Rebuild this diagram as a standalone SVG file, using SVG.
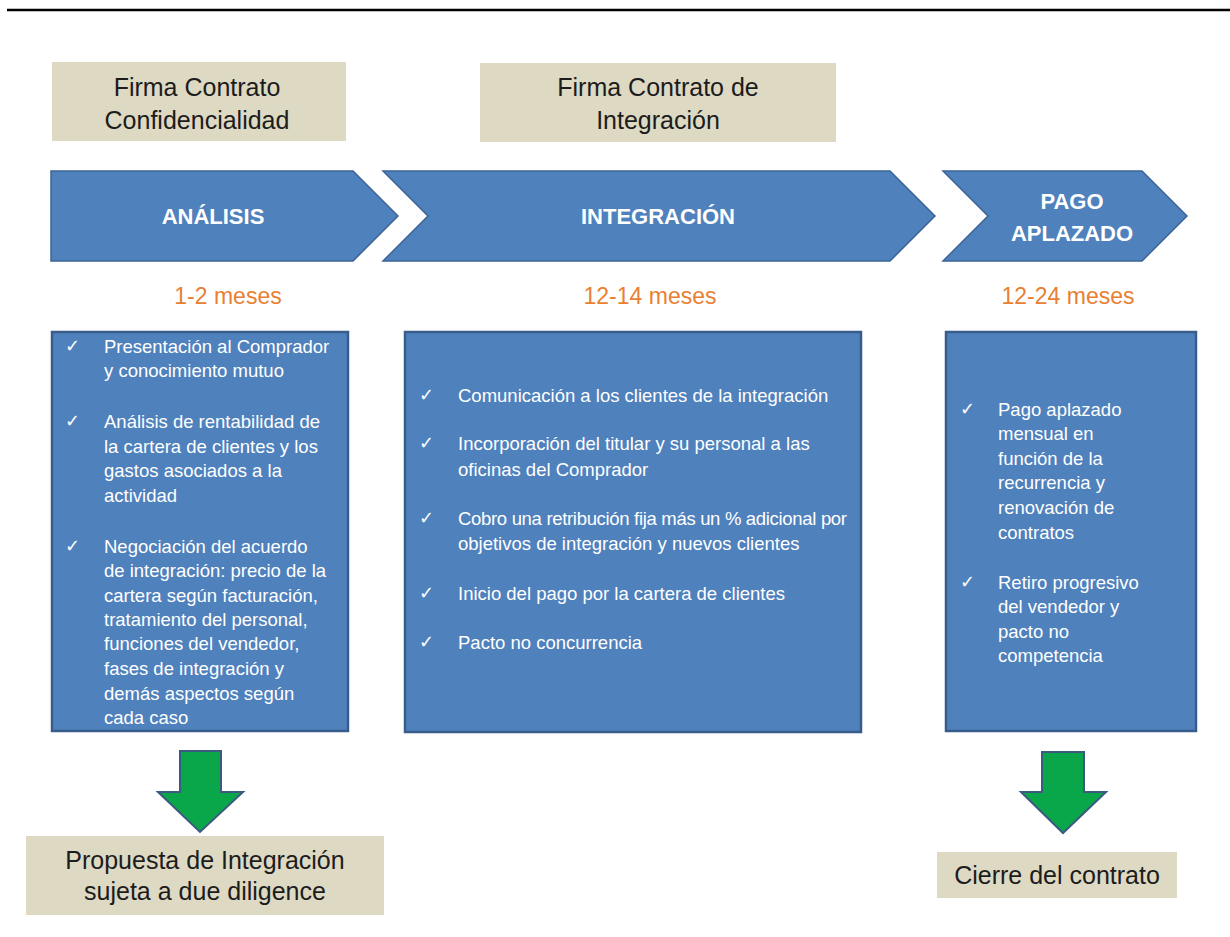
<svg xmlns="http://www.w3.org/2000/svg" width="1230" height="937" viewBox="0 0 1230 937">
<style>
.beige{fill:#ddd9c3}
.btxt{font-family:"Liberation Sans",Arial,sans-serif;font-size:25px;fill:#1c1c1c;text-anchor:middle}
.chev{fill:#4f81bd;stroke:#3a6497;stroke-width:1.5}
.ctxt{font-family:"Liberation Sans",Arial,sans-serif;font-size:22px;font-weight:bold;fill:#ffffff;text-anchor:middle}
.dur{font-family:"Liberation Sans",Arial,sans-serif;font-size:23px;fill:#e97f32;text-anchor:middle}
.panel{fill:#4f81bd;stroke:#385d8a;stroke-width:2.5}
.ptxt{font-family:"Liberation Sans",Arial,sans-serif;font-size:18.5px;fill:#ffffff}
.chk{font-family:"DejaVu Sans",sans-serif;font-size:18px;fill:#ffffff}
.arrow{fill:#0aa64a;stroke:#3b5a80;stroke-width:2;stroke-linejoin:miter}
</style>
<rect width="1230" height="937" fill="#ffffff"/>
<line x1="7" y1="10" x2="1230" y2="10" stroke="#000000" stroke-width="2.5"/>

<g id="firma-confidencialidad">
<rect class="beige" x="52" y="62" width="294" height="79"/>
<text class="btxt" x="197" y="96">Firma Contrato</text>
<text class="btxt" x="197" y="129">Confidencialidad</text>
</g>

<g id="firma-integracion">
<rect class="beige" x="480" y="63" width="356" height="79"/>
<text class="btxt" x="658" y="96">Firma Contrato de</text>
<text class="btxt" x="658" y="129">Integración</text>
</g>

<g id="fase-analisis">
<path class="chev" d="M51,171 L353,171 L398,216 L353,261 L51,261 Z"/>
<text class="ctxt" x="213" y="224">ANÁLISIS</text>
</g>

<g id="fase-integracion">
<path class="chev" d="M383,171 L890,171 L935,216 L890,261 L383,261 L428,216 Z"/>
<text class="ctxt" x="658" y="224">INTEGRACIÓN</text>
</g>

<g id="fase-pago">
<path class="chev" d="M943,171 L1142,171 L1187,216 L1142,261 L943,261 L988,216 Z"/>
<text class="ctxt" x="1072" y="209">PAGO</text>
<text class="ctxt" x="1072" y="241">APLAZADO</text>
</g>

<g id="duraciones">
<text class="dur" x="228" y="304">1-2 meses</text>
<text class="dur" x="650" y="304">12-14 meses</text>
<text class="dur" x="1068" y="304">12-24 meses</text>
</g>

<g id="panel-analisis">
<rect class="panel" x="52" y="332" width="296" height="399"/>
<text class="chk" x="65" y="352">✓</text>
<text class="ptxt" x="104" y="353">Presentación al Comprador</text>
<text class="ptxt" x="104" y="377">y conocimiento mutuo</text>
<text class="chk" x="65" y="427">✓</text>
<text class="ptxt" x="104" y="428">Análisis de rentabilidad de</text>
<text class="ptxt" x="104" y="453">la cartera de clientes y los</text>
<text class="ptxt" x="104" y="477">gastos asociados a la</text>
<text class="ptxt" x="104" y="502">actividad</text>
<text class="chk" x="65" y="552">✓</text>
<text class="ptxt" x="104" y="553">Negociación del acuerdo</text>
<text class="ptxt" x="104" y="577">de integración: precio de la</text>
<text class="ptxt" x="104" y="602">cartera según facturación,</text>
<text class="ptxt" x="104" y="626">tratamiento del personal,</text>
<text class="ptxt" x="104" y="650">funciones del vendedor,</text>
<text class="ptxt" x="104" y="675">fases de integración y</text>
<text class="ptxt" x="104" y="700">demás aspectos según</text>
<text class="ptxt" x="104" y="724">cada caso</text>
</g>

<g id="panel-integracion">
<rect class="panel" x="405" y="332" width="456" height="400"/>
<text class="chk" x="419" y="401">✓</text>
<text class="ptxt" x="458" y="402">Comunicación a los clientes de la integración</text>
<text class="chk" x="419" y="449">✓</text>
<text class="ptxt" x="458" y="450">Incorporación del titular y su personal a las</text>
<text class="ptxt" x="458" y="476">oficinas del Comprador</text>
<text class="chk" x="419" y="524">✓</text>
<text class="ptxt" x="458" y="525" textLength="389" lengthAdjust="spacing">Cobro una retribución fija más un % adicional por</text>
<text class="ptxt" x="458" y="550">objetivos de integración y nuevos clientes</text>
<text class="chk" x="419" y="599">✓</text>
<text class="ptxt" x="458" y="600">Inicio del pago por la cartera de clientes</text>
<text class="chk" x="419" y="648">✓</text>
<text class="ptxt" x="458" y="649">Pacto no concurrencia</text>
</g>

<g id="panel-pago">
<rect class="panel" x="946" y="332" width="250" height="399"/>
<text class="chk" x="960" y="415">✓</text>
<text class="ptxt" x="998" y="416">Pago aplazado</text>
<text class="ptxt" x="998" y="440">mensual en</text>
<text class="ptxt" x="998" y="465">función de la</text>
<text class="ptxt" x="998" y="489">recurrencia y</text>
<text class="ptxt" x="998" y="514">renovación de</text>
<text class="ptxt" x="998" y="539">contratos</text>
<text class="chk" x="960" y="588">✓</text>
<text class="ptxt" x="998" y="589">Retiro progresivo</text>
<text class="ptxt" x="998" y="613">del vendedor y</text>
<text class="ptxt" x="998" y="638">pacto no</text>
<text class="ptxt" x="998" y="662">competencia</text>
</g>

<g id="connectors">
<path class="arrow" d="M180,751 L221,751 L221,792 L243,792 L200,832 L158,792 L180,792 Z"/>
<path class="arrow" d="M1042,752 L1084,752 L1084,792 L1106,792 L1063,833 L1021,792 L1042,792 Z"/>
</g>

<g id="propuesta">
<rect class="beige" x="26" y="836" width="358" height="79"/>
<text class="btxt" x="205" y="869">Propuesta de Integración</text>
<text class="btxt" x="205" y="900">sujeta a due diligence</text>
</g>

<g id="cierre">
<rect class="beige" x="937" y="852" width="240" height="46"/>
<text class="btxt" x="1057" y="884">Cierre del contrato</text>
</g>
</svg>
